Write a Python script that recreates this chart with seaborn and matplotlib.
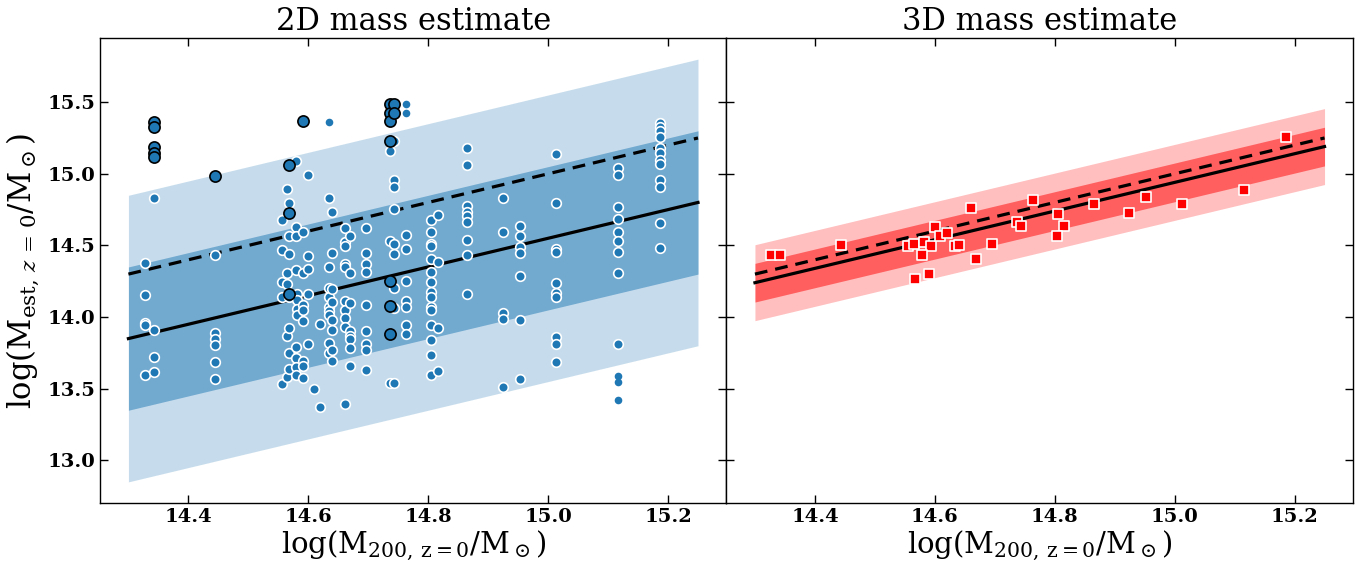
import numpy as np
import pandas as pd
import matplotlib
matplotlib.use("Agg")
import matplotlib.pyplot as plt
import seaborn as sns

# fit range and lines
fit_x = [14.3, 15.25]
one_to_one = [14.3, 15.25]
fit2d = [13.85, 14.80]
fit3d = [14.24, 15.19]
scatter2d_in, scatter2d_out = 0.5, 1.0
scatter3d_in, scatter3d_out = 0.135, 0.265

# 2D estimates, white edged points: cluster mass -> estimates
cols2d = {
    14.327: [14.378, 14.155, 13.959, 13.943, 13.597],
    14.342: [14.833, 13.909, 13.722, 13.619],
    14.444: [14.431, 13.89, 13.845, 13.806, 13.688, 13.569],
    14.556: [14.677, 14.470, 14.247, 14.139, 13.53],
    14.565: [14.893, 14.231, 13.868, 13.58, 14.311],
    14.568: [14.797, 14.569, 14.442, 14.139, 13.925, 13.752, 13.638],
    14.579: [15.09, 14.631, 14.569, 14.328, 13.792, 13.718, 13.654, 13.597],
    14.582: [14.162, 14.116, 14.059, 14.017],
    14.592: [14.594, 14.311, 14.086, 14.052, 13.971, 13.695, 13.661, 13.573],
    14.600: [14.99, 14.426, 14.339, 14.162, 13.810],
    14.609: [13.5],
    14.620: [13.952, 13.371],
    14.634: [14.833, 14.35, 14.201, 14.143, 14.068, 14.04, 14.017, 13.821, 13.752],
    14.640: [14.734, 14.449, 14.197, 14.104, 13.978, 13.909, 13.769, 13.695],
    14.661: [14.619, 14.523, 14.495, 14.373, 14.35, 14.109, 14.052, 13.994, 13.933, 13.397],
    14.669: [14.569, 14.311, 14.097, 13.902, 13.868, 13.849, 13.787, 13.661],
    14.696: [14.619, 14.449, 14.373, 14.316, 14.086, 13.902, 13.81, 13.769, 13.631],
    14.737: [15.157, 14.534, 13.539],
    14.743: [15.231, 14.955, 14.907, 14.757, 14.511, 14.442, 14.206, 14.063, 13.539],
    14.763: [14.576, 14.473, 14.252, 14.114, 14.07, 13.948, 13.879],
    14.805: [14.677, 14.594, 14.511, 14.495, 14.408, 14.316, 14.247, 14.178, 14.143,
             14.07, 14.052, 13.943, 13.838, 13.734, 13.599],
    14.816: [14.711, 14.385, 13.925, 13.626],
    14.865: [15.183, 15.063, 14.776, 14.73, 14.702, 14.661, 14.537, 14.431, 14.162],
    14.924: [14.833, 14.592, 14.028, 13.987, 13.511],
    14.953: [14.633, 14.569, 14.488, 14.447, 14.288, 13.983, 13.569],
    15.013: [15.137, 14.794, 14.477, 14.454, 14.24, 14.171, 14.137, 13.863, 13.814, 13.688],
    15.116: [15.04, 14.994, 14.771, 14.688, 14.592, 14.534, 14.454, 14.309, 13.814],
    15.186: [15.355, 15.328, 15.30, 15.259, 15.178, 15.144, 15.097, 15.068, 14.959,
             14.909, 14.656, 14.481],
}

# black edged points
black2d = {
    14.342: [15.362, 15.328, 15.185, 15.148, 15.116],
    14.444: [14.987],
    14.568: [15.061, 14.728, 14.162],
    14.592: [15.369],
    14.737: [15.488, 15.424, 15.369, 15.231, 14.252, 14.074, 13.879],
    14.743: [15.488, 15.424],
}

# points without edge
plain2d = {
    14.634: [15.362],
    14.763: [15.488, 15.424],
    15.116: [13.592, 13.546, 13.419],
}

# 3D estimates
m3d = [14.327, 14.342, 14.444, 14.556, 14.565, 14.582, 14.593, 14.578, 14.600, 14.609,
       14.620, 14.567, 14.591, 14.634, 14.640, 14.661, 14.669, 14.696, 14.737, 14.743,
       14.763, 14.806, 14.816, 14.803, 14.865, 14.924, 14.953, 15.013, 15.116, 15.186]
est3d = [14.435, 14.435, 14.50, 14.493, 14.511, 14.523, 14.493, 14.435, 14.631, 14.569,
         14.587, 14.266, 14.304, 14.493, 14.504, 14.759, 14.405, 14.511, 14.661, 14.638,
         14.817, 14.722, 14.635, 14.564, 14.792, 14.725, 14.838, 14.792, 14.890, 15.256]


def to_frame(cols):
    rows = [(m, e) for m, ests in cols.items() for e in ests]
    return pd.DataFrame(rows, columns=["m200", "mest"])


plt.rcParams['font.family'] = 'DejaVu Serif'
plt.rcParams['mathtext.fontset'] = 'dejavuserif'

fig, axes = plt.subplots(1, 2, figsize=(13.56, 5.65), dpi=100, sharey=True)
fig.subplots_adjust(left=0.0737, right=0.9978, top=0.9327, bottom=0.1097, wspace=0)

blue = '#1f77b4'
fx = np.array(fit_x)

# left panel
ax = axes[0]
f2 = np.array(fit2d)
ax.fill_between(fx, f2 - scatter2d_out, f2 + scatter2d_out, color=blue, alpha=0.25, lw=0)
ax.fill_between(fx, f2 - scatter2d_in, f2 + scatter2d_in, color=blue, alpha=0.5, lw=0)
sns.lineplot(x=fit_x, y=fit2d, ax=ax, color='black', lw=2.3)
sns.lineplot(x=fit_x, y=one_to_one, ax=ax, color='black', lw=2.3, linestyle=(0, (4, 2.5)))
d = to_frame(cols2d)
sns.scatterplot(data=d, x="m200", y="mest", ax=ax, color=blue, edgecolor='white',
                linewidth=1.2, s=48, zorder=3)
d = to_frame(black2d)
sns.scatterplot(data=d, x="m200", y="mest", ax=ax, color=blue, edgecolor='black',
                linewidth=1.2, s=65, zorder=4)
d = to_frame(plain2d)
sns.scatterplot(data=d, x="m200", y="mest", ax=ax, color=blue, linewidth=0,
                s=30, zorder=5)
ax.set_title("2D mass estimate", fontsize=22)

# right panel
ax = axes[1]
f3 = np.array(fit3d)
ax.fill_between(fx, f3 - scatter3d_out, f3 + scatter3d_out, color='red', alpha=0.25, lw=0)
ax.fill_between(fx, f3 - scatter3d_in, f3 + scatter3d_in, color='red', alpha=0.5, lw=0)
sns.lineplot(x=fit_x, y=fit3d, ax=ax, color='black', lw=2.3)
sns.lineplot(x=fit_x, y=one_to_one, ax=ax, color='black', lw=2.3, linestyle=(0, (4, 2.5)))
sns.scatterplot(x=m3d, y=est3d, ax=ax, color='red', marker='s', edgecolor='white',
                linewidth=1.2, s=45, zorder=3)
ax.set_title("3D mass estimate", fontsize=22)

for ax in axes:
    ax.set_xlabel(r'$\mathrm{log(M_{200,\,z=0}/M_\odot)}$', fontsize=21, labelpad=2)
    ax.tick_params(direction='in', top=True, right=True, length=6, width=1,
                   labelsize=14)
    for lab in ax.get_xticklabels() + ax.get_yticklabels():
        lab.set_fontweight('bold')
    for sp in ax.spines.values():
        sp.set_color('black')
        sp.set_linewidth(1)

axes[0].set_ylabel(r'$\mathrm{log(M_{est,\,\mathit{z}\,=\,0}/M_\odot)}$', fontsize=22)
axes[1].tick_params(labelleft=False)

fig.savefig('out.png', dpi=100)
